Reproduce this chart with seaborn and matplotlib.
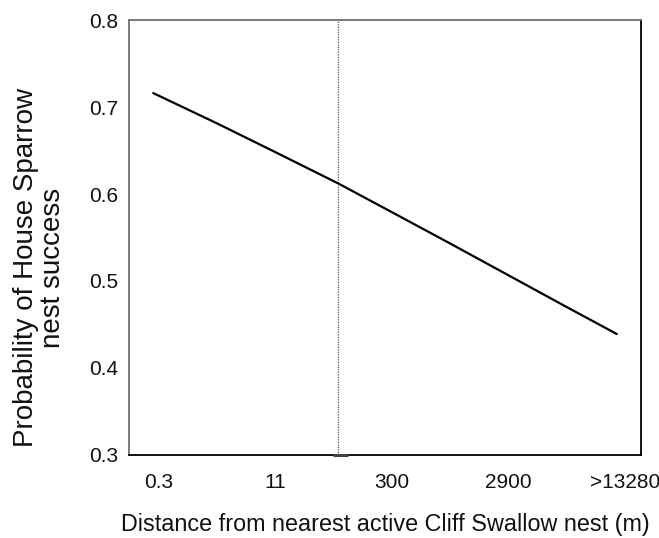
import matplotlib
matplotlib.use("Agg")
import matplotlib.pyplot as plt
import seaborn as sns
import pandas as pd

# Data
tick_labels = ["0.3", "11", "300", "2900", ">13280"]
curve_x = [-0.05, 0.5, 1.0, 1.54, 2.0, 2.5, 3.0, 3.5, 3.93]
curve_p = [0.716, 0.681, 0.648, 0.612, 0.579, 0.543, 0.5065, 0.470, 0.439]
threshold_x = 1.54
threshold_span = [1.49, 1.62]

sns.set_style("white")
plt.rcParams["font.family"] = ["Liberation Sans", "DejaVu Sans"]

fig = plt.figure(figsize=(6.59, 5.38), dpi=100)
ax = fig.add_axes([0.1958, 0.1543, 0.9727 - 0.1958, 0.9628 - 0.1543])

df = pd.DataFrame({"x": curve_x, "p": curve_p})
sns.lineplot(data=df, x="x", y="p", ax=ax, color="black", linewidth=1.6)

ax.axvline(threshold_x, color="#555555", linestyle=(0, (1, 1)), linewidth=0.9)
ax.plot(threshold_span, [0.3, 0.3], color="#444444", linewidth=2.2, solid_capstyle="butt",
        clip_on=False, zorder=5)

ax.set_xlim(-0.258, 4.137)
ax.set_ylim(0.3, 0.8)
ax.set_xticks(range(len(tick_labels)))
ax.set_xticklabels(tick_labels)
ax.set_yticks([0.3, 0.4, 0.5, 0.6, 0.7, 0.8])
ax.set_yticklabels(["0.3", "0.4", "0.5", "0.6", "0.7", "0.8"])

ax.tick_params(axis="both", direction="out", length=6, width=1, colors="#555555",
               labelsize=15, labelcolor="#111111", pad=1.5)
ax.tick_params(axis="x", pad=7)

for side in ["left", "top"]:
    ax.spines[side].set_color("#707070")
    ax.spines[side].set_linewidth(1.3)
for side in ["right", "bottom"]:
    ax.spines[side].set_color("black")
    ax.spines[side].set_linewidth(1.3)

ax.set_xlabel("Distance from nearest active Cliff Swallow nest (m)", fontsize=16.8,
              color="#111111", labelpad=15)
ax.set_ylabel("Probability of House Sparrow\nnest success", fontsize=20,
              color="#111111", linespacing=1.05)
ax.yaxis.set_label_coords(-0.123, 0.43)

fig.savefig("out.png", dpi=100)
